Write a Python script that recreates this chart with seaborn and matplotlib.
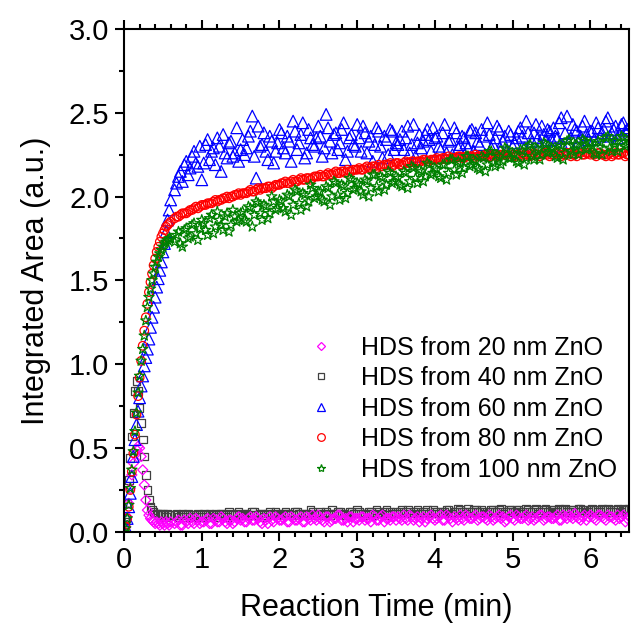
import numpy as np
import pandas as pd
import matplotlib
matplotlib.use("Agg")
import matplotlib.pyplot as plt
from matplotlib.lines import Line2D
from matplotlib.ticker import MultipleLocator, FormatStrFormatter
import seaborn as sns

# ---------------- data ----------------
t_early = [0.00, 0.02, 0.04, 0.06, 0.08, 0.10, 0.12, 0.14, 0.16, 0.18, 0.20,
           0.22, 0.24, 0.26, 0.28, 0.30, 0.32, 0.34, 0.36, 0.38, 0.40,
           0.42, 0.44, 0.46, 0.48, 0.50, 0.52, 0.54, 0.56, 0.58, 0.60]
t_late = [0.65, 0.70, 0.75, 0.80, 0.85, 0.90, 0.95, 1.00,
          1.05, 1.10, 1.15, 1.20, 1.25, 1.30, 1.35, 1.40, 1.45, 1.50,
          1.55, 1.60, 1.65, 1.70, 1.75, 1.80, 1.85, 1.90, 1.95, 2.00,
          2.05, 2.10, 2.15, 2.20, 2.25, 2.30, 2.35, 2.40, 2.45, 2.50,
          2.55, 2.60, 2.65, 2.70, 2.75, 2.80, 2.85, 2.90, 2.95, 3.00,
          3.05, 3.10, 3.15, 3.20, 3.25, 3.30, 3.35, 3.40, 3.45, 3.50,
          3.55, 3.60, 3.65, 3.70, 3.75, 3.80, 3.85, 3.90, 3.95, 4.00,
          4.05, 4.10, 4.15, 4.20, 4.25, 4.30, 4.35, 4.40, 4.45, 4.50,
          4.55, 4.60, 4.65, 4.70, 4.75, 4.80, 4.85, 4.90, 4.95, 5.00,
          5.05, 5.10, 5.15, 5.20, 5.25, 5.30, 5.35, 5.40, 5.45, 5.50,
          5.55, 5.60, 5.65, 5.70, 5.75, 5.80, 5.85, 5.90, 5.95, 6.00,
          6.05, 6.10, 6.15, 6.20, 6.25, 6.30, 6.35, 6.40, 6.45, 6.50]
t_mid = [0.675, 0.725, 0.775, 0.825, 0.875, 0.925, 0.975,
         1.025, 1.075, 1.125, 1.175, 1.225, 1.275, 1.325, 1.375, 1.425, 1.475,
         1.525, 1.575, 1.625, 1.675, 1.725, 1.775, 1.825, 1.875, 1.925, 1.975,
         2.025, 2.075, 2.125, 2.175, 2.225, 2.275, 2.325, 2.375, 2.425, 2.475,
         2.525, 2.575, 2.625, 2.675, 2.725, 2.775, 2.825, 2.875, 2.925, 2.975,
         3.025, 3.075, 3.125, 3.175, 3.225, 3.275, 3.325, 3.375, 3.425, 3.475,
         3.525, 3.575, 3.625, 3.675, 3.725, 3.775, 3.825, 3.875, 3.925, 3.975,
         4.025, 4.075, 4.125, 4.175, 4.225, 4.275, 4.325, 4.375, 4.425, 4.475,
         4.525, 4.575, 4.625, 4.675, 4.725, 4.775, 4.825, 4.875, 4.925, 4.975,
         5.025, 5.075, 5.125, 5.175, 5.225, 5.275, 5.325, 5.375, 5.425, 5.475,
         5.525, 5.575, 5.625, 5.675, 5.725, 5.775, 5.825, 5.875, 5.925, 5.975,
         6.025, 6.075, 6.125, 6.175, 6.225, 6.275, 6.325, 6.375, 6.425, 6.475]
time_min = t_early + t_late + t_mid

hds_20nm = [0.00, 0.03, 0.09, 0.17, 0.26, 0.34, 0.41, 0.46, 0.49, 0.51, 0.50,
            0.45, 0.37, 0.28, 0.19, 0.13, 0.10, 0.08, 0.07, 0.06, 0.05,
            0.06, 0.05, 0.04, 0.06, 0.05, 0.04, 0.06, 0.05, 0.04, 0.06,
            # t_late
            0.05, 0.07, 0.04, 0.06, 0.08, 0.05, 0.07, 0.06,
            0.07, 0.05, 0.08, 0.06, 0.09, 0.06, 0.07, 0.05, 0.08, 0.07,
            0.06, 0.08, 0.07, 0.09, 0.06, 0.08, 0.05, 0.07, 0.09, 0.07,
            0.08, 0.06, 0.09, 0.07, 0.08, 0.06, 0.09, 0.07, 0.08, 0.10,
            0.07, 0.09, 0.06, 0.08, 0.10, 0.07, 0.08, 0.09, 0.06, 0.08,
            0.09, 0.07, 0.08, 0.10, 0.07, 0.09, 0.06, 0.08, 0.09, 0.07,
            0.08, 0.10, 0.07, 0.09, 0.08, 0.06, 0.09, 0.08, 0.10, 0.07,
            0.09, 0.07, 0.10, 0.08, 0.09, 0.07, 0.08, 0.10, 0.08, 0.09,
            0.07, 0.09, 0.08, 0.10, 0.07, 0.09, 0.08, 0.06, 0.09, 0.08,
            0.10, 0.08, 0.09, 0.07, 0.09, 0.08, 0.10, 0.07, 0.09, 0.08,
            0.09, 0.07, 0.10, 0.08, 0.09, 0.11, 0.08, 0.09, 0.07, 0.10,
            0.08, 0.10, 0.09, 0.07, 0.09, 0.08, 0.10, 0.09, 0.06, 0.09,
            # t_mid
            0.06, 0.04, 0.07, 0.05, 0.06, 0.08, 0.05,
            0.06, 0.08, 0.05, 0.07, 0.06, 0.08, 0.05, 0.07, 0.06, 0.09,
            0.08, 0.06, 0.09, 0.07, 0.08, 0.05, 0.07, 0.09, 0.06, 0.08,
            0.07, 0.09, 0.06, 0.08, 0.07, 0.09, 0.06, 0.08, 0.10, 0.07,
            0.08, 0.06, 0.09, 0.07, 0.08, 0.10, 0.07, 0.06, 0.09, 0.08,
            0.07, 0.09, 0.08, 0.06, 0.09, 0.07, 0.10, 0.08, 0.07, 0.09,
            0.09, 0.07, 0.08, 0.10, 0.07, 0.09, 0.08, 0.06, 0.09, 0.08,
            0.08, 0.10, 0.07, 0.09, 0.06, 0.08, 0.10, 0.07, 0.09, 0.08,
            0.10, 0.08, 0.09, 0.07, 0.09, 0.08, 0.10, 0.09, 0.07, 0.10,
            0.07, 0.09, 0.08, 0.10, 0.08, 0.07, 0.09, 0.10, 0.08, 0.09,
            0.08, 0.10, 0.07, 0.09, 0.10, 0.08, 0.09, 0.07, 0.10, 0.09,
            0.09, 0.07, 0.10, 0.08, 0.10, 0.09, 0.07, 0.08, 0.10, 0.08]

hds_40nm = [0.00, 0.06, 0.17, 0.31, 0.44, 0.57, 0.71, 0.84, 0.90, 0.84, 0.74,
            0.65, 0.55, 0.45, 0.34, 0.25, 0.19, 0.15, 0.13, 0.12, 0.11,
            0.11, 0.10, 0.11, 0.10, 0.11, 0.10, 0.09, 0.11, 0.10, 0.10,
            # t_late
            0.10, 0.09, 0.11, 0.10, 0.09, 0.10, 0.11, 0.09,
            0.10, 0.11, 0.10, 0.09, 0.11, 0.10, 0.12, 0.10, 0.11, 0.10,
            0.11, 0.10, 0.12, 0.10, 0.11, 0.09, 0.11, 0.10, 0.12, 0.11,
            0.10, 0.11, 0.10, 0.12, 0.11, 0.10, 0.11, 0.13, 0.10, 0.11,
            0.11, 0.12, 0.10, 0.11, 0.12, 0.11, 0.10, 0.12, 0.11, 0.13,
            0.11, 0.10, 0.12, 0.11, 0.13, 0.11, 0.12, 0.10, 0.11, 0.12,
            0.12, 0.11, 0.13, 0.11, 0.12, 0.11, 0.12, 0.13, 0.11, 0.12,
            0.11, 0.12, 0.13, 0.11, 0.12, 0.14, 0.12, 0.11, 0.12, 0.13,
            0.12, 0.13, 0.11, 0.12, 0.13, 0.12, 0.14, 0.12, 0.13, 0.12,
            0.13, 0.12, 0.11, 0.13, 0.12, 0.14, 0.12, 0.13, 0.12, 0.13,
            0.12, 0.14, 0.13, 0.12, 0.13, 0.12, 0.14, 0.13, 0.12, 0.13,
            0.13, 0.12, 0.14, 0.13, 0.12, 0.13, 0.14, 0.12, 0.13, 0.14,
            # t_mid
            0.11, 0.10, 0.09, 0.11, 0.10, 0.09, 0.10,
            0.11, 0.09, 0.10, 0.11, 0.10, 0.11, 0.09, 0.11, 0.10, 0.12,
            0.10, 0.11, 0.10, 0.12, 0.10, 0.11, 0.10, 0.12, 0.11, 0.10,
            0.11, 0.12, 0.11, 0.10, 0.12, 0.11, 0.10, 0.11, 0.12, 0.10,
            0.12, 0.10, 0.11, 0.13, 0.11, 0.12, 0.11, 0.10, 0.12, 0.11,
            0.12, 0.11, 0.11, 0.12, 0.10, 0.12, 0.11, 0.13, 0.12, 0.11,
            0.11, 0.13, 0.12, 0.11, 0.12, 0.13, 0.11, 0.12, 0.11, 0.13,
            0.12, 0.11, 0.12, 0.13, 0.11, 0.12, 0.13, 0.12, 0.14, 0.12,
            0.13, 0.12, 0.12, 0.11, 0.13, 0.12, 0.13, 0.11, 0.12, 0.13,
            0.12, 0.13, 0.12, 0.14, 0.12, 0.13, 0.11, 0.13, 0.14, 0.12,
            0.13, 0.12, 0.13, 0.14, 0.12, 0.13, 0.12, 0.14, 0.13, 0.12,
            0.14, 0.13, 0.12, 0.13, 0.14, 0.12, 0.13, 0.12, 0.14, 0.13]

hds_60nm = [0.00, 0.03, 0.08, 0.15, 0.23, 0.33, 0.45, 0.55, 0.64, 0.72, 0.80,
            0.87, 0.93, 0.99, 1.04, 1.09, 1.15, 1.22, 1.28, 1.34, 1.40,
            1.46, 1.51, 1.56, 1.61, 1.67, 1.72, 1.79, 1.86, 1.92, 1.98,
            # t_late
            2.04, 2.12, 2.09, 2.21, 2.17, 2.27, 2.18, 2.10,
            2.31, 2.22, 2.29, 2.35, 2.15, 2.26, 2.32, 2.24, 2.41, 2.28,
            2.25, 2.36, 2.48, 2.11, 2.30, 2.38, 2.22, 2.33, 2.27, 2.40,
            2.29, 2.36, 2.21, 2.39, 2.32, 2.44, 2.26, 2.35, 2.30, 2.42,
            2.24, 2.49, 2.33, 2.37, 2.28, 2.40, 2.22, 2.35, 2.31, 2.43,
            2.27, 2.38, 2.33, 2.21, 2.41, 2.30, 2.36, 2.25, 2.39, 2.32,
            2.34, 2.28, 2.42, 2.31, 2.24, 2.37, 2.33, 2.40, 2.27, 2.35,
            2.30, 2.38, 2.26, 2.34, 2.41, 2.29, 2.36, 2.32, 2.39, 2.27,
            2.33, 2.40, 2.25, 2.37, 2.31, 2.42, 2.28, 2.36, 2.39, 2.30,
            2.35, 2.41, 2.29, 2.38, 2.33, 2.43, 2.31, 2.37, 2.40, 2.34,
            2.36, 2.44, 2.30, 2.48, 2.35, 2.40, 2.33, 2.42, 2.37, 2.39,
            2.34, 2.41, 2.38, 2.45, 2.36, 2.40, 2.35, 2.43, 2.39, 2.41,
            # t_mid
            2.08, 2.15, 2.19, 2.13, 2.24, 2.20, 2.30,
            2.20, 2.34, 2.27, 2.19, 2.30, 2.37, 2.23, 2.33, 2.26, 2.21,
            2.34, 2.29, 2.39, 2.24, 2.42, 2.31, 2.27, 2.36, 2.20, 2.32,
            2.38, 2.26, 2.33, 2.45, 2.28, 2.37, 2.23, 2.40, 2.31, 2.35,
            2.36, 2.29, 2.41, 2.26, 2.38, 2.32, 2.44, 2.27, 2.37, 2.30,
            2.35, 2.42, 2.26, 2.36, 2.31, 2.39, 2.23, 2.34, 2.40, 2.28,
            2.31, 2.39, 2.35, 2.26, 2.43, 2.32, 2.29, 2.37, 2.34, 2.41,
            2.36, 2.28, 2.43, 2.33, 2.25, 2.38, 2.31, 2.35, 2.29, 2.40,
            2.38, 2.31, 2.36, 2.44, 2.29, 2.35, 2.40, 2.33, 2.27, 2.37,
            2.32, 2.39, 2.36, 2.45, 2.30, 2.38, 2.35, 2.42, 2.33, 2.39,
            2.41, 2.35, 2.47, 2.38, 2.32, 2.43, 2.39, 2.36, 2.45, 2.34,
            2.39, 2.44, 2.36, 2.40, 2.47, 2.38, 2.42, 2.37, 2.44, 2.40]

hds_80nm = [0.00, 0.03, 0.08, 0.15, 0.25, 0.36, 0.47, 0.58, 0.70, 0.81, 0.92,
            1.02, 1.11, 1.20, 1.28, 1.36, 1.43, 1.49, 1.54, 1.59, 1.63,
            1.67, 1.70, 1.73, 1.76, 1.78, 1.80, 1.82, 1.83, 1.84, 1.85,
            # t_late
            1.87, 1.88, 1.90, 1.90, 1.92, 1.93, 1.93, 1.95,
            1.95, 1.96, 1.97, 1.97, 1.98, 1.99, 1.99, 2.00, 2.01, 2.01,
            2.02, 2.03, 2.03, 2.04, 2.04, 2.05, 2.06, 2.05, 2.07, 2.07,
            2.08, 2.08, 2.09, 2.09, 2.10, 2.10, 2.11, 2.10, 2.12, 2.12,
            2.12, 2.13, 2.13, 2.14, 2.14, 2.15, 2.14, 2.15, 2.16, 2.16,
            2.16, 2.17, 2.17, 2.18, 2.17, 2.18, 2.19, 2.19, 2.18, 2.20,
            2.19, 2.20, 2.20, 2.21, 2.20, 2.21, 2.22, 2.21, 2.22, 2.22,
            2.22, 2.23, 2.22, 2.23, 2.23, 2.24, 2.23, 2.24, 2.24, 2.23,
            2.24, 2.24, 2.25, 2.24, 2.25, 2.24, 2.25, 2.25, 2.24, 2.25,
            2.25, 2.24, 2.25, 2.26, 2.25, 2.25, 2.24, 2.26, 2.25, 2.25,
            2.26, 2.25, 2.25, 2.26, 2.24, 2.25, 2.26, 2.25, 2.26, 2.25,
            2.25, 2.26, 2.25, 2.24, 2.26, 2.25, 2.25, 2.26, 2.24, 2.25,
            # t_mid
            1.88, 1.89, 1.90, 1.91, 1.92, 1.94, 1.94,
            1.95, 1.96, 1.96, 1.98, 1.98, 1.99, 2.00, 2.00, 2.01, 2.02,
            2.02, 2.02, 2.04, 2.03, 2.05, 2.05, 2.05, 2.06, 2.06, 2.07,
            2.08, 2.09, 2.08, 2.10, 2.09, 2.11, 2.10, 2.11, 2.11, 2.12,
            2.13, 2.12, 2.14, 2.13, 2.15, 2.14, 2.15, 2.16, 2.15, 2.16,
            2.17, 2.16, 2.18, 2.17, 2.18, 2.19, 2.18, 2.19, 2.20, 2.19,
            2.20, 2.19, 2.21, 2.20, 2.21, 2.21, 2.21, 2.22, 2.21, 2.22,
            2.23, 2.22, 2.23, 2.24, 2.23, 2.23, 2.24, 2.23, 2.24, 2.24,
            2.25, 2.24, 2.24, 2.25, 2.24, 2.25, 2.24, 2.25, 2.25, 2.24,
            2.24, 2.25, 2.26, 2.25, 2.24, 2.26, 2.25, 2.25, 2.26, 2.24,
            2.25, 2.26, 2.24, 2.25, 2.26, 2.25, 2.24, 2.26, 2.25, 2.26,
            2.26, 2.24, 2.26, 2.25, 2.25, 2.24, 2.26, 2.25, 2.26, 2.25]

hds_100nm = [0.00, 0.02, 0.08, 0.16, 0.26, 0.37, 0.48, 0.60, 0.71, 0.83, 0.93,
             1.02, 1.09, 1.17, 1.26, 1.34, 1.40, 1.45, 1.50, 1.54, 1.58,
             1.61, 1.64, 1.66, 1.68, 1.70, 1.72, 1.73, 1.74, 1.75, 1.75,
             # t_late
             1.73, 1.79, 1.70, 1.81, 1.76, 1.84, 1.74, 1.86,
             1.80, 1.87, 1.78, 1.91, 1.83, 1.88, 1.79, 1.92, 1.85, 1.90,
             1.86, 1.94, 1.82, 1.97, 1.90, 1.95, 1.87, 2.00, 1.92, 1.98,
             1.93, 2.01, 1.89, 2.04, 1.96, 2.02, 1.94, 2.07, 1.99, 2.03,
             1.98, 2.06, 1.95, 2.09, 2.01, 2.07, 1.99, 2.11, 2.04, 2.08,
             2.03, 2.10, 2.00, 2.13, 2.06, 2.12, 2.04, 2.15, 2.08, 2.12,
             2.07, 2.15, 2.05, 2.18, 2.11, 2.16, 2.09, 2.20, 2.13, 2.17,
             2.12, 2.19, 2.10, 2.22, 2.16, 2.21, 2.14, 2.24, 2.18, 2.22,
             2.17, 2.24, 2.15, 2.27, 2.20, 2.25, 2.19, 2.29, 2.23, 2.26,
             2.21, 2.28, 2.19, 2.30, 2.24, 2.29, 2.22, 2.32, 2.26, 2.29,
             2.24, 2.31, 2.22, 2.33, 2.27, 2.31, 2.25, 2.34, 2.28, 2.32,
             2.26, 2.33, 2.25, 2.35, 2.29, 2.33, 2.27, 2.36, 2.30, 2.33,
             # t_mid
             1.77, 1.72, 1.80, 1.75, 1.83, 1.78, 1.81,
             1.84, 1.77, 1.89, 1.82, 1.86, 1.80, 1.90, 1.83, 1.88, 1.86,
             1.91, 1.85, 1.93, 1.89, 1.96, 1.86, 1.94, 1.90, 1.97, 1.93,
             1.97, 1.91, 2.00, 1.95, 2.03, 1.92, 2.01, 1.97, 2.05, 2.00,
             2.03, 1.97, 2.05, 2.00, 2.08, 1.98, 2.06, 2.02, 2.10, 2.05,
             2.07, 2.01, 2.09, 2.05, 2.13, 2.03, 2.11, 2.07, 2.14, 2.09,
             2.11, 2.06, 2.14, 2.09, 2.17, 2.08, 2.15, 2.12, 2.19, 2.14,
             2.16, 2.11, 2.19, 2.14, 2.22, 2.13, 2.20, 2.17, 2.24, 2.19,
             2.21, 2.16, 2.23, 2.19, 2.27, 2.18, 2.24, 2.21, 2.28, 2.23,
             2.25, 2.20, 2.27, 2.23, 2.31, 2.22, 2.28, 2.25, 2.31, 2.27,
             2.28, 2.23, 2.30, 2.26, 2.34, 2.25, 2.31, 2.28, 2.33, 2.29,
             2.30, 2.25, 2.32, 2.28, 2.36, 2.27, 2.33, 2.29, 2.35, 2.31]

labels = ["HDS from 20 nm ZnO", "HDS from 40 nm ZnO", "HDS from 60 nm ZnO",
          "HDS from 80 nm ZnO", "HDS from 100 nm ZnO"]
series = [hds_20nm, hds_40nm, hds_60nm, hds_80nm, hds_100nm]

# ---------------- styling ----------------
colors = ["#FF00FF", "#404040", "#0000FF", "#FF0000", "#008000"]
markers = ["D", "s", "^", "o", "*"]
sizes = [26, 30, 70, 38, 60]
draw_order = [1, 0, 2, 3, 4]

sns.set_theme(style="ticks")
plt.rcParams["font.family"] = ["Liberation Sans", "DejaVu Sans"]
plt.rcParams["text.color"] = "black"
plt.rcParams["axes.labelcolor"] = "black"
plt.rcParams["xtick.color"] = "black"
plt.rcParams["ytick.color"] = "black"

fig = plt.figure(figsize=(6.33, 6.28), dpi=100)
ax = fig.add_axes([0.196, 0.153, 0.798, 0.801])

for i in draw_order:
    df = pd.DataFrame({"t": time_min, "v": series[i]})
    sns.scatterplot(data=df, x="t", y="v", marker=markers[i], s=sizes[i],
                    ax=ax, legend=False)
    coll = ax.collections[-1]
    coll.set_facecolor("none")
    coll.set_edgecolor(colors[i])
    coll.set_linewidth(0.9)

ax.set_xlim(0, 6.5)
ax.set_ylim(0, 3.0)
ax.xaxis.set_major_locator(MultipleLocator(1))
ax.xaxis.set_minor_locator(MultipleLocator(0.2))
ax.yaxis.set_major_locator(MultipleLocator(0.5))
ax.yaxis.set_minor_locator(MultipleLocator(0.25))
ax.yaxis.set_major_formatter(FormatStrFormatter("%.1f"))

for sp in ax.spines.values():
    sp.set_linewidth(1.5)
    sp.set_color("black")

ax.tick_params(axis="both", which="major", direction="out", length=6.5,
               width=1.5, labelsize=21, colors="black", pad=4)
ax.tick_params(axis="both", which="minor", direction="out", length=3.6,
               width=1.5, colors="black")
ax.tick_params(axis="x", which="both", top=True, labeltop=False)
ax.tick_params(axis="y", which="both", right=False, labelright=False)

ax.set_xlabel("Reaction Time (min)", fontsize=22, labelpad=13, color="black")
ax.set_ylabel("Integrated Area (a.u.)", fontsize=22, labelpad=13, color="black")

handles = [Line2D([], [], linestyle="none", marker=markers[i],
                  markersize=[4.5, 4.5, 6, 5.5, 6][i], markerfacecolor="none",
                  markeredgecolor=colors[i], markeredgewidth=0.9)
           for i in range(5)]
leg = ax.legend(handles, labels, loc="upper left", bbox_to_anchor=(0.326, 0.425),
                frameon=False, fontsize=18, handlelength=1.2, handletextpad=1.0,
                labelspacing=0.26, borderpad=0.2)
for txt in leg.get_texts():
    txt.set_color("black")

fig.savefig("out.png", dpi=100)
